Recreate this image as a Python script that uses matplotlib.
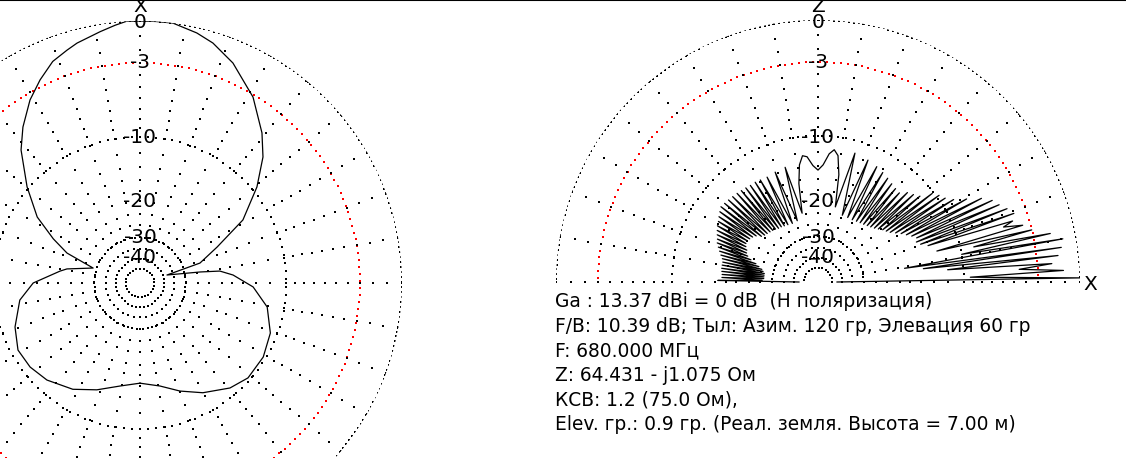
import numpy as np
import matplotlib.pyplot as plt
from matplotlib.lines import Line2D

# azimuth pattern (degrees clockwise from X, dB)
az_deg = [-180, -169, -158, -147.7, -136.2, -127.4, -118.8, -109.4, -98.1, -90, -81.5, -79.1, -72.3,
          -67.7, -63, -57.3, -49.6, -41.8, -36.9, -31, -26.2, -21.5, -17.4, -14.7, -9, -5.5, -3, 0, 3.5,
          7.2, 12.8, 16.9, 22.9, 31.3, 39.1, 44.3, 50.6, 58.5, 65, 71.6, 73.5, 79.6, 81.5, 85.1, 92,
          100.7, 111, 121, 131.3, 139.4, 150.2, 159.7, 169, 180]
az_db = [-16.5, -15.7, -14.1, -12.6, -11.45, -10.96, -10.85, -11.7, -13.2, -15.4, -20.2, -21.6, -28.7,
         -20.6, -17.0, -13.1, -9.77, -6.59, -5.07, -3.51, -2.51, -1.64, -1.22, -0.94, -0.5, -0.2, 0.0, 0.0, 0.0,
         0.0, -0.37, -0.75, -1.59, -3.19, -5.21, -6.82, -9.42, -13.3, -19.3, -24.4, -38.3, -25.0, -20.2, -17.7, -14.4,
         -12.1, -10.8, -10.3, -10.3, -10.97, -12.5, -14.1, -15.7, -16.5]

# elevation pattern, front side: lobe tips and dips (degrees above X, dB)
front_peak_deg = [0.9, 2.7, 4.5, 6.3, 8.1, 10.0, 11.8, 13.7, 15.5, 17.4, 19.3, 21.2, 23.1, 25.1, 27.1, 29.2,
                  31.3, 33.4, 35.6, 37.8, 40.1, 42.5, 45.0, 47.6, 50.3, 53.1, 56.1, 59.4, 63.0, 67.7, 74.0]
front_peak_db = [0.0, -1.1, -1.9, -1.4, -1.1, -0.9, -1.7, -3.0, -3.6, -4.3, -4.0, -4.4, -4.9, -5.3, -6.1, -7.4,
                 -8.6, -9.3, -9.7, -10.2, -11.6, -12.1, -12.5, -13.3, -13.2, -13.0, -12.7, -12.4, -12.1, -11.8, -11.5]
front_null_deg = [0.0, 1.8, 3.6, 5.4, 7.2, 9.0, 10.9, 12.7, 14.6, 16.5, 18.3, 20.2, 22.1, 24.1, 26.1, 28.1,
                  30.2, 32.3, 34.5, 36.7, 38.9, 41.3, 43.7, 46.3, 48.9, 51.7, 54.6, 57.7, 61.2, 65.3, 70.0, 77.0]
front_null_db = [-45, -9.3, -4.5, -12.0, -15.5, -18.8, -10.0, -8.5, -13.0, -5.2, -14.0, -15.0, -15.5, -15.2, -15.8, -16.5,
                 -17.2, -18.0, -18.8, -19.3, -19.7, -20.3, -20.8, -21.2, -21.5, -21.8, -22.0, -22.2, -22.4, -22.4, -22.4, -21.0]

# top lobe (the "M" near Z)
top_deg = [79, 81, 83, 85, 87.5, 90, 92.5, 95, 97, 99, 101, 103]
top_db = [-15.0, -12.3, -11.6, -12.2, -13.8, -14.6, -13.9, -12.6, -12.4, -13.6, -16.5, -22.5]

# back side
back_peak_deg = [106.0, 111.3, 115.9, 119.5, 122.2, 125.0, 127.5, 130.0, 132.4, 135.0, 137.5, 139.9, 142.2,
                 144.4, 146.6, 148.7, 150.8, 152.9, 154.9, 156.9, 158.8, 160.7, 162.6, 164.5, 166.3, 168.2,
                 170.0, 171.9, 173.7, 175.5, 177.3, 179.1]
back_peak_db = [-13.5, -13.7, -13.9, -13.8, -13.7, -13.7, -13.6, -13.5, -13.4, -13.3, -13.2, -13.1, -13.0,
                -13.3, -13.6, -13.9, -14.1, -14.4, -14.7, -15.0, -15.2, -15.6, -16.0, -16.4, -16.8, -17.0,
                -17.0, -17.0, -17.1, -17.2, -17.2, -16.5]
back_null_deg = [108.7, 113.6, 117.7, 120.9, 123.6, 126.3, 128.8, 131.2, 133.7, 136.3, 138.7, 141.1, 143.3,
                 145.5, 147.7, 149.8, 151.9, 153.9, 155.9, 157.9, 159.8, 161.7, 163.6, 165.4, 167.3, 169.1,
                 171.0, 172.8, 174.6, 176.4, 178.2, 180.0]
back_null_db = [-24.0, -24.2, -24.0, -23.8, -23.6, -23.5, -23.2, -23.0, -22.8, -22.6, -22.4, -22.0, -21.0,
                -20.5, -20.2, -20.0, -20.0, -20.3, -20.8, -21.0, -21.5, -22.5, -24.0, -25.0, -26.0, -26.5,
                -27.0, -27.0, -27.0, -27.0, -26.5, -45]

scale_db = [0, -3, -10, -20, -30, -40]
info = ["Ga : 13.37 dBi = 0 dB  (H поляризация)",
        "F/B: 10.39 dB; Тыл: Азим. 120 гр, Элевация 60 гр",
        "F: 680.000 МГц",
        "Z: 64.431 - j1.075 Ом",
        "КСВ: 1.2 (75.0 Ом),",
        "Elev. гр.: 0.9 гр. (Реал. земля. Высота = 7.00 м)"]

W, H = 1126, 458
R = 262
plt.rcParams['font.family'] = ['DejaVu Sans']
fig = plt.figure(figsize=(W / 100, H / 100), dpi=100)


def arrl(db):
    # ARRL log scale: 0.89 per 2 dB
    return 0.89 ** (-np.asarray(db, dtype=float) / 2.0)


def px(x, y):
    return x / W, 1 - y / H


def polar_ax(cx, cy):
    ax = fig.add_axes([(cx - R) / W, (H - cy - R) / H, 2 * R / W, 2 * R / H], projection='polar')
    ax.set_ylim(0, 1)
    ax.axis('off')
    return ax


def draw_grid(ax, half):
    for db, col, step in [(0, 'black', 5), (-3, 'red', 7), (-10, 'black', 8), (-30, 'black', 5), (-50, 'black', 3.5)]:
        r = arrl(db)
        n = int(2 * np.pi * r * R / step)
        th = np.linspace(0, 2 * np.pi, n, endpoint=False)
        if half:
            th = th[th <= np.pi + 1e-9]
        ax.scatter(th, np.full(len(th), r), s=0.7, c=col, marker='s', linewidths=0)
    radial_db = list(range(0, -11, -1)) + [-12, -14, -16, -18, -20, -23, -26, -30, -35, -41]
    rr = arrl(radial_db)
    angles = range(0, 181, 10) if half else range(0, 360, 10)
    for a in angles:
        ax.scatter(np.full(len(rr), np.radians(a)), rr, s=0.7, c='black', marker='s', linewidths=0)


def draw_labels(cx):
    for db, base in zip(scale_db, [28, 68.5, 143, 207, 243, 263]):
        fig.text(*px(cx, base), str(db), ha='center', va='baseline', fontsize=14.5)


# left: azimuth plot
ax1 = polar_ax(140, 283)
ax1.set_theta_zero_location('N')
ax1.set_theta_direction(-1)
draw_grid(ax1, False)
ax1.plot(np.radians(az_deg), arrl(az_db), color='black', lw=0.9)
draw_labels(140)
fig.text(*px(140, 12), "X", ha='center', va='baseline', fontsize=14.5)

# right: elevation plot
ax2 = polar_ax(818, 282)
ax2.set_theta_zero_location('E')
ax2.set_theta_direction(1)
draw_grid(ax2, True)
el_deg = np.array(front_peak_deg + front_null_deg + top_deg + back_peak_deg + back_null_deg)
el_db = np.array(front_peak_db + front_null_db + top_db + back_peak_db + back_null_db)
order = np.argsort(el_deg)
ax2.plot(np.radians(el_deg[order]), arrl(el_db[order]), color='black', lw=0.9)
draw_labels(818)
fig.text(*px(818, 12), "Z", ha='center', va='baseline', fontsize=14.5)
fig.text(*px(1090, 290), "X", ha='center', va='baseline', fontsize=14.5)

for i, line in enumerate(info):
    fig.text(*px(555, 307 + 24.6 * i), line, ha='left', va='baseline', fontsize=13.4)

# window border at the top
fig.add_artist(Line2D([0, 1], [1, 1], transform=fig.transFigure, color='black', lw=1.5))

fig.savefig('out.png', dpi=100)
